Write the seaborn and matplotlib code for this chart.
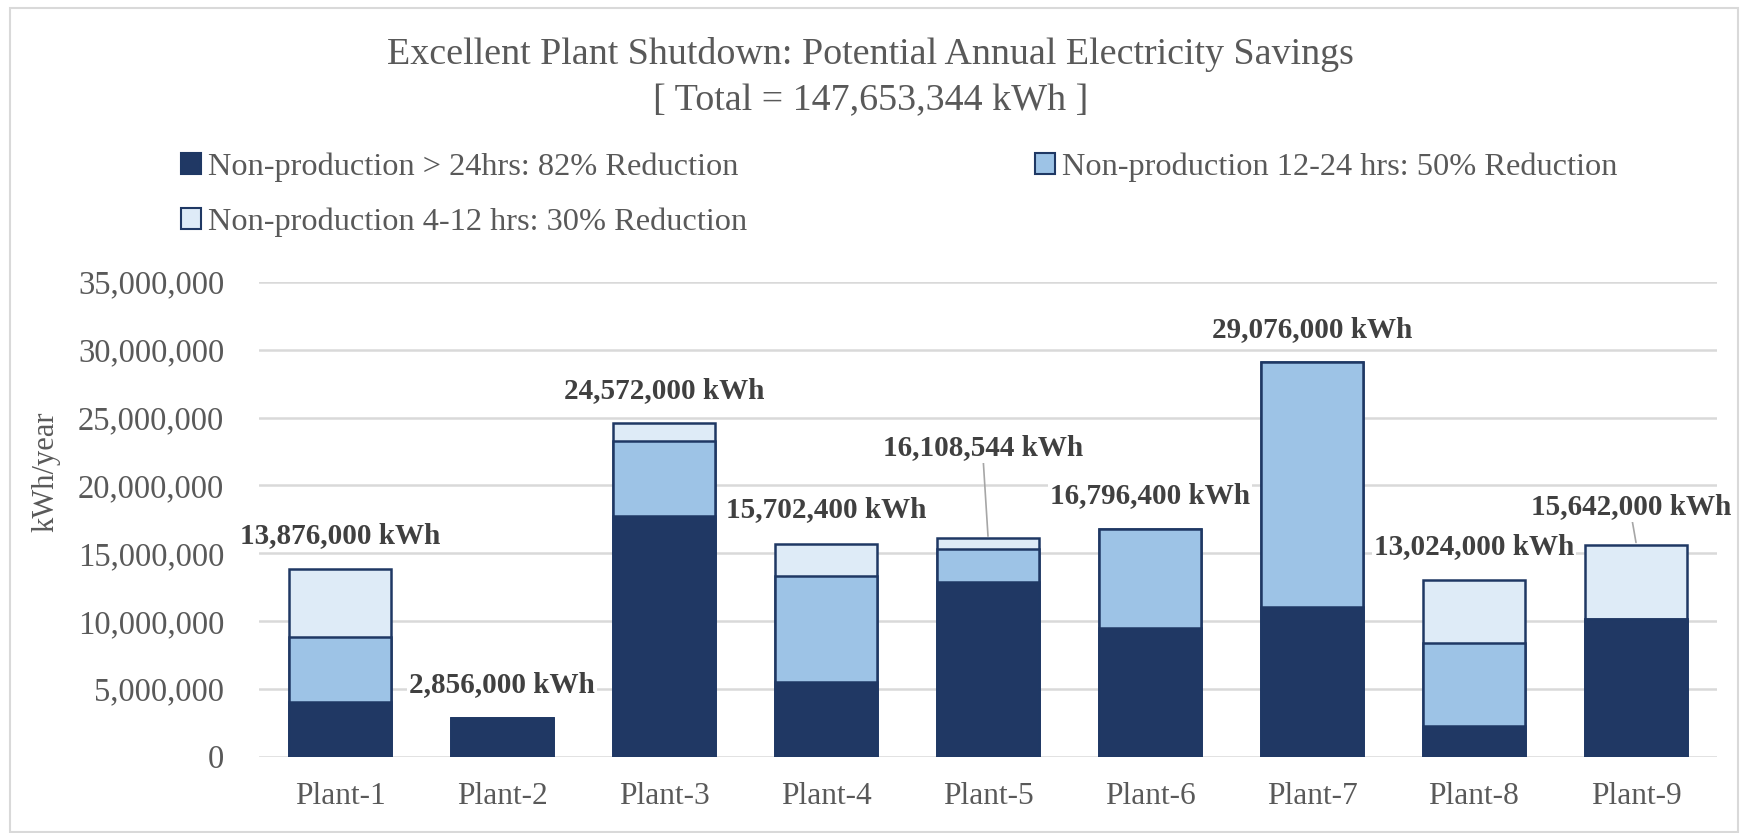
import numpy as np
import pandas as pd
import matplotlib
matplotlib.use("Agg")
import matplotlib.pyplot as plt
from matplotlib.patches import Patch, Rectangle
import seaborn as sns

# ---------------- data ----------------
plants = ["Plant-1", "Plant-2", "Plant-3", "Plant-4", "Plant-5",
          "Plant-6", "Plant-7", "Plant-8", "Plant-9"]
over_24h = [4000000, 2856000, 17750000, 5530000, 12880000,
            9460000, 11060000, 2290000, 10130000]
h12_24 = [4800000, 0, 5550000, 7820000, 2460000,
          7336400, 18016000, 6070000, 0]
h4_12 = [5076000, 0, 1272000, 2352400, 768544,
         0, 0, 4664000, 5512000]
series_names = ["Non-production > 24hrs: 82% Reduction",
                "Non-production 12-24 hrs: 50% Reduction",
                "Non-production 4-12 hrs: 30% Reduction"]
y_ticks = [0, 5000000, 10000000, 15000000, 20000000, 25000000, 30000000, 35000000]

# ---------------- style ----------------
sns.set_theme(style="white")
plt.rcParams["font.family"] = ["Liberation Serif", "DejaVu Serif"]

c_dark = "#203864"
c_mid = "#9DC3E6"
c_light = "#DEEBF7"
edge = "#1F3864"
grey_txt = "#595959"

W, H = 1741, 833
fig = plt.figure(figsize=(W / 100, H / 100), dpi=100)
ax = fig.add_axes([259 / W, 1 - 756.7 / H, (1717 - 259) / W, (756.7 - 282) / H])

d = np.array(over_24h, dtype=float)
m = np.array(h12_24, dtype=float)
l = np.array(h4_12, dtype=float)
total = d + m + l
df = pd.DataFrame({"plant": plants, "dark": d, "dm": d + m, "tot": total})

common = dict(x="plant", order=plants, width=0.63, saturation=1,
              edgecolor=edge, linewidth=1.8, ax=ax, zorder=3)
sns.barplot(data=df, y="tot", color=c_light, **common)
sns.barplot(data=df, y="dm", color=c_mid, **common)
sns.barplot(data=df, y="dark", color=c_dark, **common)

ax.set_ylim(0, 35000000)
ax.set_xlim(-0.5, len(plants) - 0.5)
ax.set_yticks(y_ticks)
ax.set_yticklabels([f"{v:,.0f}" for v in y_ticks])
ax.yaxis.grid(True, color="#D9D9D9", linewidth=1.8, zorder=0)
ax.set_axisbelow(True)
for s in ax.spines.values():
    s.set_visible(False)
ax.tick_params(axis="y", length=0, pad=25, labelsize=23.5, labelcolor=grey_txt)
ax.tick_params(axis="x", length=0, pad=18, labelsize=22.7, labelcolor=grey_txt)
ax.set_xlabel("")
ax.set_ylabel("")

fig.text(46 / W, 1 - 472 / H, "kWh/year", rotation=90, ha="center", va="center",
         fontsize=22, color=grey_txt)

# data labels (manual offsets for a few, as in the reference)
default_off = 2450000
label_pos = {3: (0.0, 18250000), 4: (-0.03, 22770000), 8: (-0.03, 18420000)}
leaders = {4: 21950000, 8: 17850000}
for i, t in enumerate(total):
    dx, y = label_pos.get(i, (0.0, t + default_off))
    ax.text(i + dx, y, f"{t:,.0f} kWh", ha="center", va="center",
            fontsize=21, fontweight="bold", color="#404040", zorder=5,
            bbox=dict(facecolor="white", edgecolor="none", pad=1.5))
    if i in leaders:
        ax.plot([i + dx, i], [leaders[i], t + 150000], color="#A6A6A6",
                linewidth=1.2, zorder=4)

# title
fig.text(0.5, 1 - 55 / H, "Excellent Plant Shutdown: Potential Annual Electricity Savings",
         ha="center", va="center", fontsize=27.4, color=grey_txt)
fig.text(0.5, 1 - 101 / H, f"[ Total = {total.sum():,.0f} kWh ]",
         ha="center", va="center", fontsize=27.4, color=grey_txt)

# legend
handles = [Patch(facecolor=c_dark, edgecolor=edge, linewidth=1.5),
           Patch(facecolor=c_light, edgecolor=edge, linewidth=1.5),
           Patch(facecolor=c_mid, edgecolor=edge, linewidth=1.5)]
labels = [series_names[0], series_names[2], series_names[1]]
leg = fig.legend(handles, labels, loc="upper left", bbox_to_anchor=(181 / W, 1 - 152 / H),
                 ncol=2, frameon=False, fontsize=23.3, handlelength=0.62, handleheight=0.62,
                 handletextpad=0.2, columnspacing=8.92, labelspacing=0.8,
                 borderaxespad=0, borderpad=0)
for t in leg.get_texts():
    t.set_color(grey_txt)

# outer chart border
fig.patches.append(Rectangle((10 / W, 1 - 832 / H), (1738 - 10) / W, (832 - 8) / H,
                             transform=fig.transFigure, fill=False,
                             edgecolor="#D9D9D9", linewidth=1.5))

fig.savefig("out.png", dpi=100)
